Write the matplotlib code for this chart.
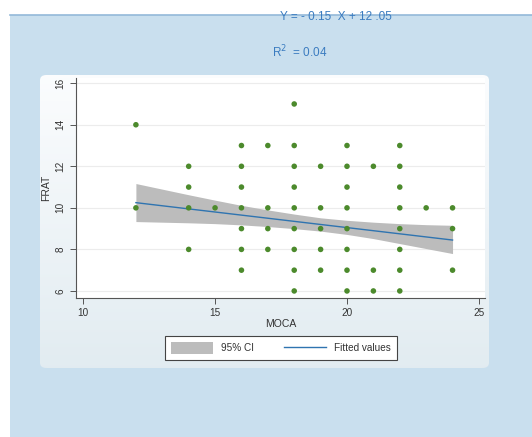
import numpy as np
import matplotlib
matplotlib.use("Agg")
import matplotlib.pyplot as plt
from matplotlib.patches import FancyBboxPatch, Rectangle
from matplotlib.lines import Line2D
from matplotlib.patches import Patch

plt.rcParams["font.family"] = ["Liberation Sans", "DejaVu Sans"]

# -----------------------------
# Data
# -----------------------------
moca = [12, 12,
        14, 14, 14, 14,
        15,
        16, 16, 16, 16, 16, 16, 16,
        17, 17, 17, 17,
        18, 18, 18, 18, 18, 18, 18, 18, 18,
        19, 19, 19, 19, 19,
        20, 20, 20, 20, 20, 20, 20, 20,
        21, 21, 21,
        22, 22, 22, 22, 22, 22, 22, 22,
        23,
        24, 24, 24]
frat = [14, 10,
        12, 11, 10, 8,
        10,
        13, 12, 11, 10, 9, 8, 7,
        13, 10, 9, 8,
        15, 13, 12, 11, 10, 9, 8, 7, 6,
        12, 10, 9, 8, 7,
        13, 12, 11, 10, 9, 8, 7, 6,
        12, 7, 6,
        13, 12, 11, 10, 9, 8, 7, 6,
        10,
        10, 9, 7]

fit_x = [12, 13, 14, 15, 16, 17, 18, 19, 20, 21, 22, 23, 24]
fit_y = [10.25, 10.10, 9.95, 9.80, 9.65, 9.50, 9.35, 9.20, 9.05, 8.90, 8.75, 8.60, 8.45]
ci_upper = [11.17, 10.90, 10.63, 10.37, 10.12, 9.90, 9.70, 9.52, 9.40, 9.31, 9.24, 9.19, 9.16]
ci_lower = [9.34, 9.31, 9.28, 9.24, 9.18, 9.10, 9.00, 8.88, 8.72, 8.52, 8.28, 8.04, 7.80]

equation_text = "Y = - 0.15  X + 12 .05"
r2_text = "R$^2$  = 0.04"

W, H = 532, 437
fig = plt.figure(figsize=(W / 100, H / 100), dpi=100)
fig.patch.set_facecolor("white")


def fx(px):
    return px / W


def fy(py):
    return 1 - py / H


# background layer: light blue backdrop, thin top line, rounded gradient panel
bg = fig.add_axes([0, 0, 1, 1], zorder=0)
bg.set_xlim(0, 1)
bg.set_ylim(0, 1)
bg.axis("off")
bg.add_patch(Rectangle((fx(10), 0), 1, fy(14.5), transform=bg.transAxes,
                       facecolor="#c9dfee", edgecolor="none", zorder=0))
bg.plot([fx(10), 1], [fy(14.5), fy(14.5)], transform=bg.transAxes,
        color="#93b9d9", lw=1.2, zorder=1)

panel = FancyBboxPatch((fx(40), fy(368)), fx(449), 293 / H,
                       boxstyle="round,pad=0,rounding_size=0.012",
                       transform=bg.transAxes, facecolor="none", edgecolor="none")
bg.add_patch(panel)
top_c = np.array([0.985, 0.99, 0.995])
bot_c = np.array([0.886, 0.925, 0.945])
t = np.linspace(0, 1, 200)[:, None]
grad = (top_c * (1 - t) + bot_c * t)[:, None, :]
img = bg.imshow(grad, extent=[fx(40), fx(489), fy(368), fy(75)],
                aspect="auto", zorder=2)
img.set_clip_path(panel)
bg.set_xlim(0, 1)
bg.set_ylim(0, 1)

# main axes
ax = fig.add_axes([fx(76), fy(297.6), fx(485) - fx(76), fy(78) - fy(297.6)], zorder=2)
ax.set_facecolor("white")
ax.set_xlim(9.73, 25.23)
ax.set_ylim(5.68, 16.25)

ax.fill_between(fit_x, ci_lower, ci_upper, color="#bcbcbc", lw=0, zorder=2)
ax.plot(fit_x, fit_y, color="#2f74b0", lw=1.0, zorder=3)
ax.scatter(moca, frat, s=16, color="#4c8a2c", edgecolors="none", zorder=4)

ax.set_xticks([10, 15, 20, 25])
ax.set_yticks([6, 8, 10, 12, 14, 16])
ax.grid(axis="y", color="#ececec", lw=0.8)
ax.set_axisbelow(True)
for side in ["top", "right"]:
    ax.spines[side].set_visible(False)
for side in ["left", "bottom"]:
    ax.spines[side].set_color("#555555")
    ax.spines[side].set_linewidth(0.8)
ax.tick_params(colors="#555555", labelcolor="#333333", labelsize=7.2, length=4, width=0.7)
for lab in ax.get_yticklabels():
    lab.set_rotation(90)
    lab.set_va("center")
ax.set_xlabel("MOCA", fontsize=7.5, color="#333333", labelpad=1)
ax.set_ylabel("FRAT", fontsize=7.5, color="#333333", labelpad=3)

# legend
handles = [Patch(facecolor="#bcbcbc", edgecolor="none", label="95% CI"),
           Line2D([], [], color="#2f74b0", lw=1.0, label="Fitted values")]
leg = fig.legend(handles=handles, loc="center", bbox_to_anchor=(fx(281), fy(348)),
                 ncol=2, fontsize=7.2, frameon=True, fancybox=False, framealpha=1,
                 handlelength=4.2, handleheight=1.4, columnspacing=3.0,
                 borderpad=0.6, handletextpad=0.8)
leg.get_frame().set_edgecolor("#444444")
leg.get_frame().set_linewidth(0.8)
for txt in leg.get_texts():
    txt.set_color("#333333")

# equation text
fig.text(fx(336), fy(16.5), equation_text, ha="center", va="center",
         fontsize=8.5, color="#3b7cc0")
fig.text(fx(300), fy(52), r2_text, ha="center", va="center",
         fontsize=8.5, color="#3b7cc0")

fig.savefig("out.png", dpi=100)
